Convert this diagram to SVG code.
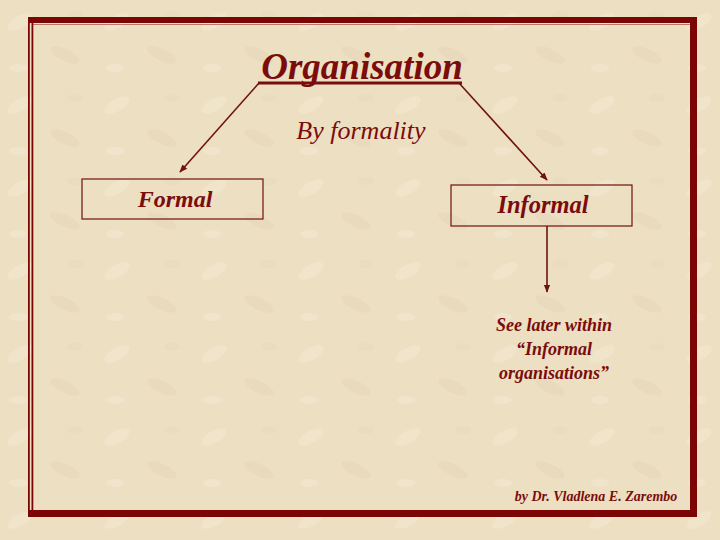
<svg xmlns="http://www.w3.org/2000/svg" width="720" height="540" viewBox="0 0 720 540">
<defs>
<style>
.t{font-family:"Liberation Serif","DejaVu Serif",serif;font-style:italic;fill:#7a0c0c;text-anchor:middle}
.box{fill:none;stroke:#6e1212;stroke-width:1.2}
.ln{stroke:#6e1212;stroke-width:1.6;fill:none}
.fr{fill:#7c0606}
</style>
<marker id="ah" viewBox="0 0 10 10" refX="9" refY="5" markerWidth="8" markerHeight="8" orient="auto" markerUnits="userSpaceOnUse">
<path d="M0,1 L10,5 L0,9 z" fill="#6e1212"/>
</marker>
<pattern id="tex" width="97" height="83" patternUnits="userSpaceOnUse">
<rect width="97" height="83" fill="#eddfc2"/>
<ellipse cx="20" cy="22" rx="14" ry="6" fill="#f3e9d4" opacity="0.5" transform="rotate(-30 20 22)"/>
<ellipse cx="65" cy="55" rx="16" ry="6" fill="#e6d6b6" opacity="0.45" transform="rotate(25 65 55)"/>
<ellipse cx="75" cy="15" rx="8" ry="4" fill="#e7d8b9" opacity="0.4"/>
<ellipse cx="18" cy="68" rx="9" ry="4" fill="#f3e9d5" opacity="0.5"/>
</pattern>
</defs>
<rect width="720" height="540" fill="url(#tex)"/>
<g id="frame">
<rect class="fr" x="28" y="17" width="669" height="6"/>
<rect class="fr" x="690" y="17" width="7" height="500"/>
<rect class="fr" x="28" y="510" width="669" height="7"/>
<rect class="fr" x="28" y="17" width="1.8" height="500"/>
<rect class="fr" x="31.5" y="17" width="1.8" height="500"/>
<rect class="fr" x="33" y="24" width="657" height="0.8" opacity="0.6"/>
</g>
<g id="connectors">
<line class="ln" x1="259" y1="83" x2="180" y2="172" marker-end="url(#ah)"/>
<line class="ln" x1="459" y1="83" x2="547" y2="180" marker-end="url(#ah)"/>
<line class="ln" x1="547" y1="226" x2="547" y2="292" marker-end="url(#ah)"/>
</g>
<g id="title">
<text class="t" x="362" y="79" font-size="37" font-weight="bold">Organisation</text>
<rect x="258" y="81.5" width="204" height="3" fill="#7a0c0c"/>
</g>
<g id="label-formality">
<text class="t" x="361" y="139" font-size="26">By formality</text>
</g>
<g id="node-formal">
<rect class="box" x="82" y="179" width="181" height="40"/>
<text class="t" x="175" y="207" font-size="24" font-weight="bold">Formal</text>
</g>
<g id="node-informal">
<rect class="box" x="451" y="185" width="181" height="41"/>
<text class="t" x="543" y="213" font-size="24.5" font-weight="bold">Informal</text>
</g>
<g id="note">
<text class="t" x="554" y="331" font-size="18" font-weight="bold">See later within</text>
<text class="t" x="554" y="355" font-size="18" font-weight="bold">“Informal</text>
<text class="t" x="554" y="379" font-size="18" font-weight="bold">organisations”</text>
</g>
<g id="author">
<text class="t" x="596" y="501" font-size="14" font-weight="bold">by Dr. Vladlena E. Zarembo</text>
</g>
</svg>
